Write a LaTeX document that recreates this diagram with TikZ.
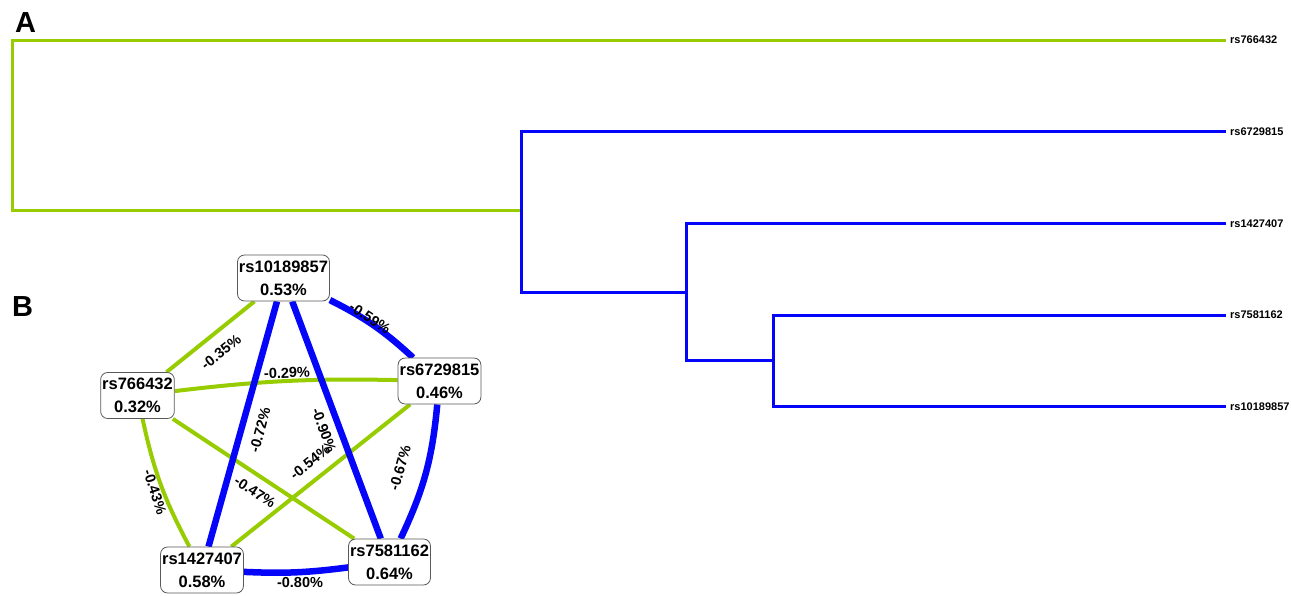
\documentclass[tikz,border=0pt]{standalone}
\usepackage{fontspec}
\setmainfont{Liberation Sans}
\usetikzlibrary{backgrounds}
\definecolor{lgreen}{RGB}{150,204,0}
\definecolor{lblue}{RGB}{5,5,250}
\begin{document}
\begin{tikzpicture}[x=1pt,y=-1pt,
  tree/.style={line width=3pt},
  gtree/.style={tree,draw=lgreen},
  btree/.style={tree,draw=lblue},
  leaf/.style={anchor=west,inner sep=0pt,font=\fontsize{11}{11}\selectfont\bfseries},
  panel/.style={inner sep=0pt,font=\fontsize{29}{29}\selectfont\bfseries},
  snp/.style={draw=black!65,line width=0.8pt,fill=white,rounded corners=7pt,align=center,
    font=\fontsize{16.5}{22.7}\selectfont\bfseries,inner xsep=1.5pt,minimum height=46pt},
  gedge/.style={draw=lgreen,line width=4pt},
  bedge/.style={draw=lblue,line width=6.5pt},
  elab/.style={inner sep=0pt,font=\fontsize{14.5}{14.5}\selectfont\bfseries}]
\useasboundingbox (0,0) rectangle (1291,595);

% ---------- Panel A: dendrogram ----------
\node[panel] (A) at (25.5,22.5) {A};
\node[leaf] (l1) at (1230,40) {rs766432};
\node[leaf] (l2) at (1230,131.7) {rs6729815};
\node[leaf] (l3) at (1230,223.3) {rs1427407};
\node[leaf] (l4) at (1230,315) {rs7581162};
\node[leaf] (l5) at (1230,406.7) {rs10189857};
\coordinate (j1) at (521,210);
\coordinate (j2) at (686,292);
\coordinate (j3) at (773,360);

\draw[gtree] ([xshift=-4pt]l1.west) -- (12,40) -- (12,210) -- (j1);
\draw[btree] ([xshift=-4pt]l2.west) -- (521,131.7) -- (521,292) -- (j2);
\draw[btree] ([xshift=-4pt]l3.west) -- (686,223.3) -- (686,360) -- (j3);
\draw[btree] ([xshift=-4pt]l4.west) -- (773,315) -- (773,406.7) -- ([xshift=-4pt]l5.west);

% ---------- Panel B: network ----------
\node[panel] (B) at (22.5,307) {B};
\node[snp] (n1) at (283.5,278) {rs10189857\\0.53\%};
\node[snp] (n2) at (137.5,395.5) {rs766432\\0.32\%};
\node[snp] (n3) at (439.5,381) {rs6729815\\0.46\%};
\node[snp] (n4) at (202,570) {rs1427407\\0.58\%};
\node[snp] (n5) at (389.5,562) {rs7581162\\0.64\%};

\begin{pgfonlayer}{background}
\draw[gedge] (n1) -- (n2);
\draw[gedge] (n2) to[bend left=4] (n3);
\draw[gedge] (n2) to[bend right=8] (n4);
\draw[gedge] (n2) -- (n5);
\draw[gedge] (n3) -- (n4);
\draw[bedge] (n1) to[bend left=8] (n3);
\draw[bedge] (n1) -- (n4);
\draw[bedge] (n1) -- (n5);
\draw[bedge] (n3) to[bend left=10] (n5);
\draw[bedge] (n4) to[bend right=5] (n5);
\end{pgfonlayer}

\node[elab,rotate=38] (e12) at (221,352) {-0.35\%};
\node[elab,rotate=-33] (e13) at (370,318) {-0.59\%};
\node[elab,rotate=2] (e23) at (287,373) {-0.29\%};
\node[elab,rotate=75] (e14) at (260,430) {-0.72\%};
\node[elab,rotate=-70] (e15) at (324,430) {-0.90\%};
\node[elab,rotate=38] (e34) at (310,462) {-0.54\%};
\node[elab,rotate=-33] (e25) at (255,492) {-0.47\%};
\node[elab,rotate=-72] (e24) at (155,492) {-0.43\%};
\node[elab,rotate=74] (e35) at (400,468) {-0.67\%};
\node[elab] (e45) at (300,582) {-0.80\%};
\end{tikzpicture}
\end{document}
